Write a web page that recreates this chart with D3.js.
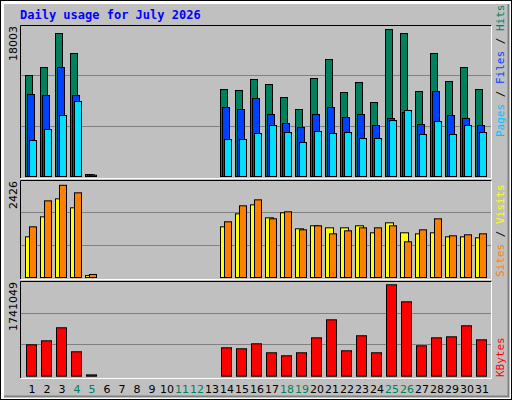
<!DOCTYPE html><html><head><script src="https://cdn.jsdelivr.net/npm/d3@7"></script>
<style>body{margin:0}svg{display:block}</style></head><body><svg width="512" height="400"></svg>
<script>
const days=d3.range(1,32);
const weekend=[4,5,11,12,18,19,25,26];
const hits=[12120,13080,17160,14760,240,0,0,0,0,0,0,0,0,10440,10320,11640,11040,9480,8040,11760,14040,10080,11280,8880,17640,17160,10200,14760,11400,13080,10440];
const files=[9840,9720,13080,9720,200,0,0,0,0,0,0,0,0,8280,8040,9360,7440,6360,5880,7440,8280,7080,7440,6120,6960,7680,6240,10200,7320,6960,6120];
const pages=[4320,5640,7320,9000,150,0,0,0,0,0,0,0,0,4440,4440,5160,6120,5280,4080,5400,5160,5280,4560,4560,6720,7920,5040,6600,5040,6120,5280];
const sites=[1070,1596,2070,1833,50,0,0,0,0,0,0,0,0,1333,1675,1912,1570,1702,1281,1360,1307,1307,1360,1176,1439,1176,1149,1176,1070,1070,1044];
const visits=[1333,2017,2426,2228,80,0,0,0,0,0,0,0,0,1465,1886,2043,1544,1728,1254,1360,1149,1228,1307,1307,1360,939,1254,1544,1097,1123,1149];
const kbytes=[598000,674000,922000,465000,25000,0,0,0,0,0,0,0,0,541000,522000,617000,446000,389000,446000,731000,1074000,484000,770000,446000,1741049,1417000,579000,731000,750000,960000,693000];
const maxLabels=["18003","2426","1741049"];

const svg=d3.select("svg");
const F="'DejaVu Sans Mono',monospace";
svg.append("rect").attr("x",0.5).attr("y",0.5).attr("width",511).attr("height",399).attr("fill","#fff").attr("stroke","#000");
svg.append("rect").attr("x",4).attr("y",4).attr("width",504).attr("height",392).attr("fill","#c0c0c0");
svg.append("path").attr("d","M4,396.5H508.5V4").attr("fill","none").attr("stroke","#808080").attr("stroke-width",2);
svg.append("text").attr("x",20).attr("y",19).attr("font-family",F).attr("font-weight","bold").attr("font-size",12).attr("fill","#0000ff").text("Daily usage for July 2026");

const x=d3.scaleBand().domain(days).range([25,490]).paddingInner(0);
const panels=[{t:25,b:178,base:176,top:26,max:18003},{t:180,b:279,base:277,top:184.8,max:2426},{t:281,b:378,base:375.7,top:284.3,max:1741049}];
panels.forEach((p,i)=>{
  svg.append("rect").attr("x",20).attr("y",p.t).attr("width",472).attr("height",p.b-p.t).attr("fill","#c0c0c0");
  svg.append("path").attr("d",`M20.5,${p.b}V${p.t+0.5}H491.5`).attr("fill","none").attr("stroke","#000");
  svg.append("path").attr("d",`M20.5,${p.b+0.5}H491.5V${p.t+0.5}`).attr("fill","none").attr("stroke","#fff");
  const h=(p.base-p.t);
  [1,2].forEach(k=>{const gy=Math.round(p.base-h*k/3)+0.5;
    svg.append("line").attr("x1",21).attr("x2",491).attr("y1",gy).attr("y2",gy).attr("stroke","#808080");});
  p.y=d3.scaleLinear().domain([0,p.max]).range([p.base,p.top]);
  svg.append("text").attr("transform",`translate(17,${p.t+1}) rotate(-90)`).attr("text-anchor","end")
    .attr("font-family","'DejaVu Sans',sans-serif").attr("font-size",11).text(maxLabels[i]);
});
function bars(data,py,off,w,color){
  svg.append("g").selectAll("rect").data(data.map((v,i)=>({d:days[i],v}))).join("rect")
   .filter(d=>d.v>0)
   .attr("x",d=>x(d.d)+off+0.5).attr("width",w)
   .attr("y",d=>Math.min(py(d.v),py(0)-1)+0.5).attr("height",d=>Math.max(1,py(0)-py(d.v)))
   .attr("fill",color).attr("stroke","#000");
}
const [P1,P2,P3]=panels;
bars(hits,P1.y,0,7,"#00805c");
bars(files,P1.y,2,7,"#0040ff");
bars(pages,P1.y,4,7,"#00e0ff");
bars(sites,P2.y,0,8,"#ffff00");
bars(visits,P2.y,4,7,"#ff8000");
bars(kbytes,P3.y,1,10,"#ff0000");

svg.append("g").selectAll("text").data(days).join("text")
 .attr("x",d=>x(d)+7).attr("y",393).attr("text-anchor","middle")
 .attr("font-family","'DejaVu Sans',sans-serif").attr("font-size",11)
 .attr("fill",d=>weekend.includes(d)?"#00805c":"#000").text(d=>d);

function rlabel(y,parts){
  const t=svg.append("text").attr("transform",`translate(504,${y}) rotate(-90)`).attr("font-family",F).attr("font-size",11);
  parts.forEach(([s,c])=>t.append("tspan").attr("fill",c).text(s));
}
rlabel(137,[["Pages","#00c0ff"],[" / ","#000"],["Files","#0040ff"],[" / ","#000"],["Hits","#00805c"]]);
rlabel(277,[["Sites","#ff8000"],[" / ","#000"],["Visits","#ffff00"]]);
rlabel(377,[["KBytes","#ff0000"]]);
</script></body></html>
